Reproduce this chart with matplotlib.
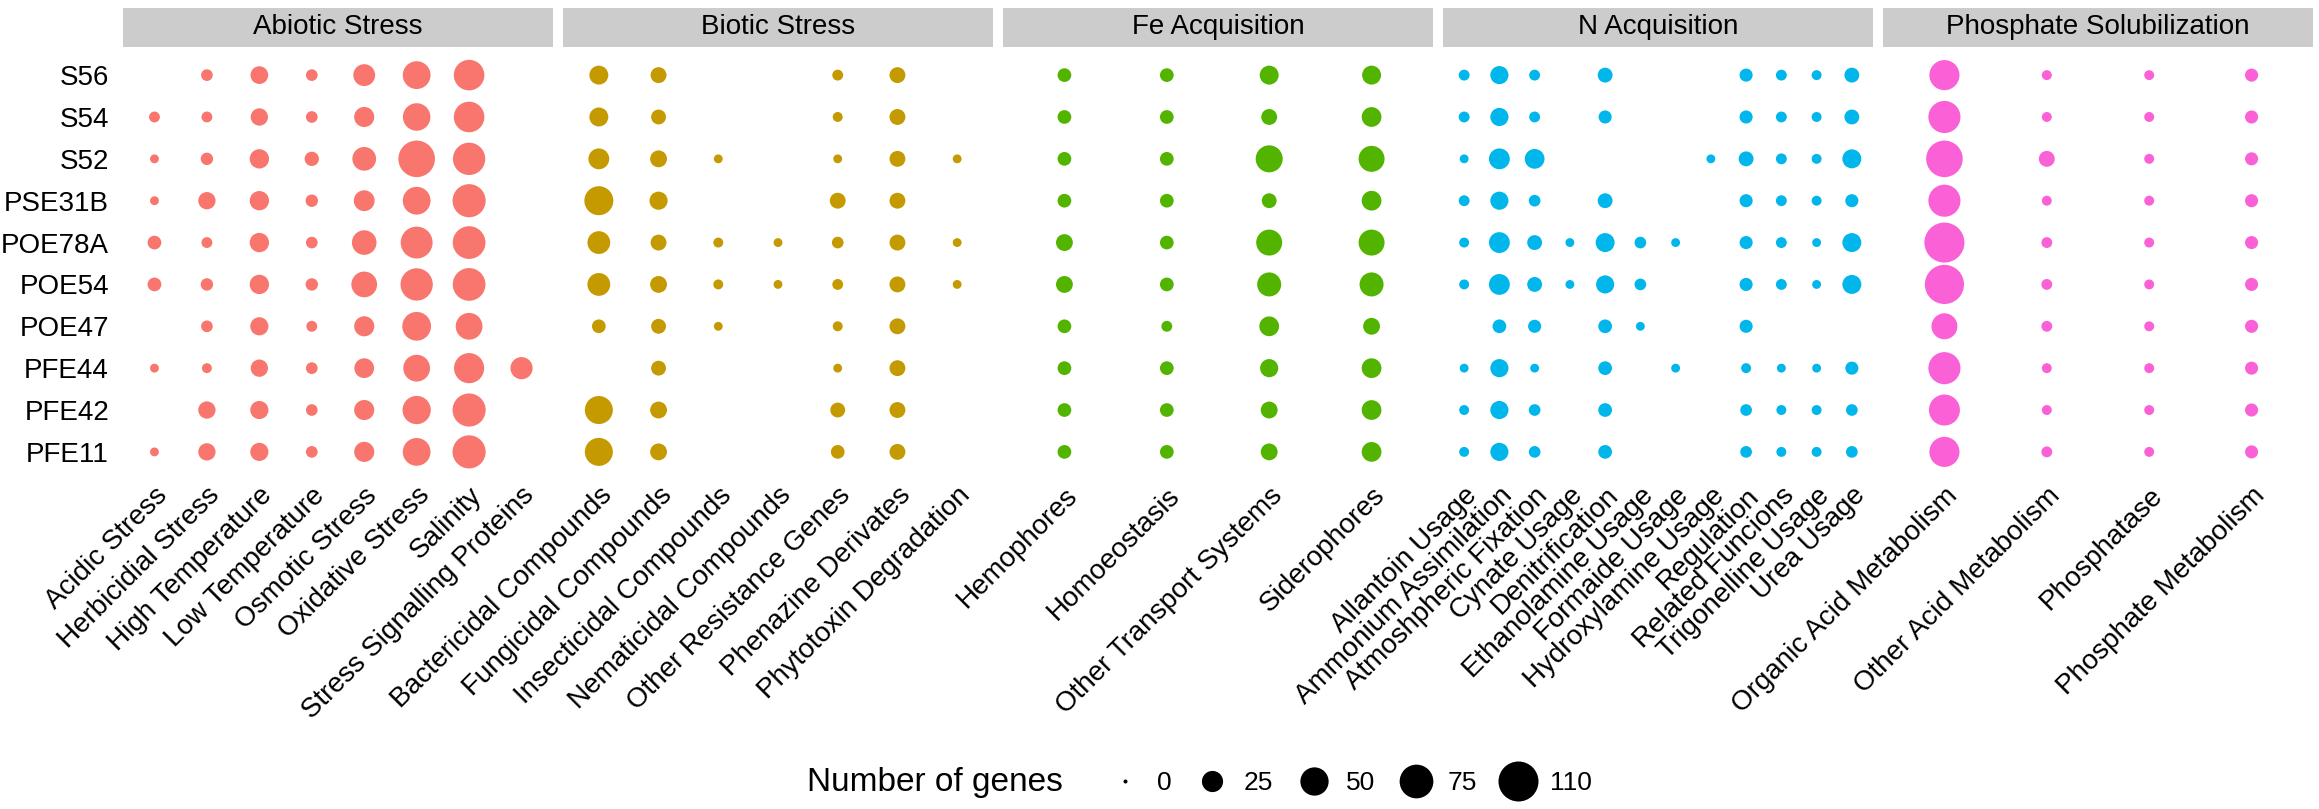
import matplotlib
matplotlib.use("Agg")
import matplotlib.pyplot as plt
from matplotlib.lines import Line2D

plt.rcParams['font.family'] = ['Liberation Sans', 'DejaVu Sans']

# strains, top to bottom
strains = ["S56", "S54", "S52", "PSE31B", "POE78A", "POE54", "POE47", "PFE44", "PFE42", "PFE11"]
N = None

abiotic_cats = ["Acidic Stress", "Herbicidial Stress", "High Temperature", "Low Temperature",
                "Osmotic Stress", "Oxidative Stress", "Salinity", "Stress Signalling Proteins"]
abiotic_vals = [
    [N, 5, 16, 5, 27, 48, 60, N],
    [4, 4, 15, 5, 22, 47, 60, N],
    [2, 6, 20, 9, 33, 90, 68, N],
    [2, 15, 20, 6, 24, 48, 72, N],
    [8, 4, 20, 5, 36, 66, 70, N],
    [8, 6, 20, 6, 40, 68, 70, N],
    [N, 5, 17, 4, 22, 52, 44, N],
    [2, 3, 15, 5, 21, 44, 58, 28],
    [N, 15, 17, 5, 22, 50, 72, N],
    [2, 15, 17, 5, 22, 48, 72, N],
]

biotic_cats = ["Bactericidal Compounds", "Fungicidal Compounds", "Insecticidal Compounds",
               "Nematicidal Compounds", "Other Resistance Genes", "Phenazine Derivates",
               "Phytotoxin Degradation"]
biotic_vals = [
    [19, 12, N, N, 4, 12, N],
    [19, 10, N, N, 3, 12, N],
    [24, 14, 2, N, 2, 12, 2],
    [53, 17, N, N, 12, 12, N],
    [30, 12, 3, 2, 5, 12, 2],
    [30, 14, 3, 2, 4, 12, 2],
    [8, 10, 2, N, 3, 12, N],
    [N, 10, N, N, 2, 12, N],
    [49, 14, N, N, 10, 12, N],
    [49, 14, N, N, 8, 12, N],
]

fe_cats = ["Hemophores", "Homoeostasis", "Other Transport Systems", "Siderophores"]
fe_vals = [
    [8, 8, 19, 19],
    [8, 8, 12, 21],
    [8, 8, 45, 41],
    [8, 8, 10, 21],
    [14, 8, 41, 41],
    [14, 8, 34, 34],
    [8, 4, 21, 14],
    [8, 8, 17, 21],
    [8, 8, 14, 21],
    [8, 8, 14, 21],
]

n_cats = ["Allantoin Usage", "Ammonium Assimilation", "Atmoshpheric Fixation", "Cynate Usage",
          "Denitrification", "Ethanolamine Usage", "Formaide Usage", "Hydroxylamine Usage",
          "Regulation", "Related Funcions", "Trigonelline Usage", "Urea Usage"]
n_vals = [
    [4, 17, 4, N, 10, N, N, N, 7, 4, 3, 10],
    [4, 17, 4, N, 7, N, N, N, 7, 4, 3, 10],
    [2, 24, 21, N, N, N, N, 2, 10, 4, 3, 19],
    [4, 17, 5, N, 10, N, N, N, 7, 4, 3, 7],
    [3, 24, 10, 2, 19, 5, 2, N, 7, 4, 2, 19],
    [3, 24, 10, 2, 17, 5, N, N, 7, 4, 2, 19],
    [N, 8, 7, N, 8, 2, N, N, 7, N, N, N],
    [2, 17, 2, N, 8, N, 2, N, 3, 2, 2, 7],
    [3, 17, 5, N, 8, N, N, N, 5, 3, 3, 5],
    [3, 17, 5, N, 8, N, N, N, 5, 3, 3, 5],
]

p_cats = ["Organic Acid Metabolism", "Other Acid Metabolism", "Phosphatase", "Phosphate Metabolism"]
p_vals = [
    [58, 3, 3, 7],
    [67, 3, 3, 7],
    [90, 12, 3, 7],
    [67, 3, 3, 7],
    [110, 4, 3, 7],
    [105, 4, 3, 7],
    [41, 4, 3, 7],
    [67, 3, 3, 7],
    [62, 3, 3, 7],
    [58, 4, 3, 7],
]

facet_titles = ["Abiotic Stress", "Biotic Stress", "Fe Acquisition", "N Acquisition",
                "Phosphate Solubilization"]
facet_cats = [abiotic_cats, biotic_cats, fe_cats, n_cats, p_cats]
facet_vals = [abiotic_vals, biotic_vals, fe_vals, n_vals, p_vals]
facet_colors = ["#F8766D", "#C49A00", "#53B400", "#00B6EB", "#FB61D7"]

legend_breaks = [0, 25, 50, 75, 110]
max_val = 110


def diam_pt(v):
    # area scale, like ggplot scale_size (diameter in px -> points at 100 dpi)
    return (4 + 36 * (v / max_val) ** 0.5) * 0.72


W, H = 2319, 809
fig = plt.figure(figsize=(W / 100, H / 100), dpi=100)

left0 = 123
pw = 430
gap = 10
ptop, pbot = 50, 477
stop, sbot = 8, 47

for i, title in enumerate(facet_titles):
    cats = facet_cats[i]
    vals = facet_vals[i]
    x0 = left0 + i * (pw + gap)
    ax = fig.add_axes([x0 / W, 1 - pbot / H, pw / W, (pbot - ptop) / H])
    xs, ys, ss = [], [], []
    for r, row in enumerate(vals):
        for c, v in enumerate(row):
            if v is None:
                continue
            xs.append(c)
            ys.append(r)
            ss.append(diam_pt(v) ** 2)
    ax.scatter(xs, ys, s=ss, c=facet_colors[i], linewidths=0)
    ax.set_xlim(-0.6, len(cats) - 0.4)
    ax.set_ylim(len(strains) - 0.4, -0.6)
    ax.set_xticks(range(len(cats)))
    ax.set_xticklabels(cats, rotation=45, ha='right', va='top', rotation_mode='anchor', fontsize=20)
    ax.set_yticks(range(len(strains)))
    if i == 0:
        ax.set_yticklabels(strains, fontsize=20)
    else:
        ax.set_yticklabels([])
    ax.tick_params(axis='y', length=0, pad=10)
    ax.tick_params(axis='x', length=0, pad=4)
    for sp in ax.spines.values():
        sp.set_visible(False)

    sax = fig.add_axes([x0 / W, 1 - sbot / H, pw / W, (sbot - stop) / H])
    sax.set_facecolor("#CCCCCC")
    sax.set_xticks([])
    sax.set_yticks([])
    for sp in sax.spines.values():
        sp.set_visible(False)
    sax.text(0.5, 0.5, title, ha='center', va='center', fontsize=20, transform=sax.transAxes)

# size legend
fig.text(807 / W, 1 - 783 / H, "Number of genes", ha='left', va='center', fontsize=24)
handles = [Line2D([], [], marker='o', ls='', color='black', markeredgewidth=0,
                  markersize=diam_pt(v)) for v in legend_breaks]
fig.legend(handles, [str(v) for v in legend_breaks], ncol=5, frameon=False,
           loc='center left', bbox_to_anchor=(1092 / W, 1 - 783 / H), borderpad=0,
           fontsize=19, handlelength=1.5, handletextpad=0.45, columnspacing=0.8)

fig.savefig("out.png", dpi=100)
